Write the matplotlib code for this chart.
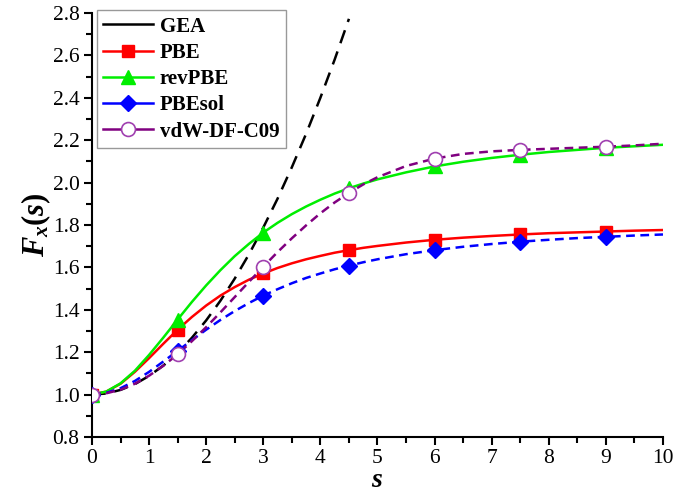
#!/usr/bin/env python3
# coding: utf-8
"""Exchange enhancement factors F_x(s) for a few GGA functionals."""
import matplotlib
matplotlib.use('AGG')
import matplotlib.pyplot as plt
from matplotlib.lines import Line2D

plt.rcParams['font.family'] = ['Liberation Serif', 'DejaVu Serif']
plt.rcParams['mathtext.fontset'] = 'custom'
plt.rcParams['mathtext.rm'] = 'Liberation Serif:bold'
plt.rcParams['mathtext.it'] = 'Liberation Serif:italic:bold'
plt.rcParams['mathtext.bf'] = 'Liberation Serif:bold'

# Curves (steps of 0.25 up to s = 5, then 0.5)
s = [0, 0.25, 0.5, 0.75, 1, 1.25, 1.5, 1.75, 2, 2.25, 2.5, 2.75, 3, 3.25, 3.5,
     3.75, 4, 4.25, 4.5, 4.75, 5, 5.5, 6, 6.5, 7, 7.5, 8, 8.5, 9, 9.5, 10]
pbe = [1.0, 1.014, 1.051, 1.107, 1.172, 1.240, 1.306, 1.366, 1.420, 1.467, 1.507,
       1.542, 1.571, 1.597, 1.619, 1.638, 1.654, 1.669, 1.681, 1.692, 1.701,
       1.717, 1.730, 1.740, 1.748, 1.755, 1.761, 1.765, 1.769, 1.773, 1.776]
revpbe = [1.0, 1.014, 1.053, 1.112, 1.187, 1.269, 1.354, 1.437, 1.515, 1.587, 1.653,
          1.711, 1.764, 1.810, 1.851, 1.887, 1.919, 1.948, 1.973, 1.995, 2.015,
          2.048, 2.076, 2.098, 2.116, 2.131, 2.144, 2.154, 2.164, 2.171, 2.178]
pbesol = [1.0, 1.008, 1.030, 1.064, 1.107, 1.156, 1.206, 1.257, 1.306, 1.352, 1.394,
          1.432, 1.467, 1.497, 1.525, 1.550, 1.571, 1.591, 1.608, 1.624, 1.638,
          1.662, 1.681, 1.697, 1.710, 1.721, 1.730, 1.738, 1.744, 1.750, 1.755]
c09 = [1.0, 1.006, 1.023, 1.051, 1.089, 1.136, 1.190, 1.252, 1.318, 1.388, 1.460,
       1.532, 1.603, 1.672, 1.737, 1.798, 1.855, 1.906, 1.951, 1.991, 2.025,
       2.078, 2.113, 2.135, 2.147, 2.154, 2.159, 2.164, 2.169, 2.175, 2.183]

# GEA only drawn up to s = 4.5
s_gea = [0, 0.25, 0.5, 0.75, 1, 1.25, 1.5, 1.75, 2, 2.25, 2.5, 2.75, 3, 3.25,
         3.5, 3.75, 4, 4.25, 4.5]
gea = [1.0, 1.005, 1.022, 1.049, 1.088, 1.137, 1.197, 1.268, 1.350, 1.443, 1.547,
       1.662, 1.788, 1.924, 2.072, 2.230, 2.400, 2.580, 2.772]

# Marked points
s_mark = [0, 1.5, 3, 4.5, 6, 7.5, 9]
pbe_mark = [1.0, 1.306, 1.571, 1.681, 1.730, 1.755, 1.769]
revpbe_mark = [1.0, 1.354, 1.764, 1.973, 2.076, 2.131, 2.164]
pbesol_mark = [1.0, 1.206, 1.467, 1.608, 1.681, 1.721, 1.744]
c09_mark = [1.0, 1.190, 1.603, 1.951, 2.113, 2.154, 2.169]

RED = '#ff0000'
GREEN = '#00ee00'
BLUE = '#0000ff'
PURPLE = '#800080'
CIRCLE_EDGE = '#a040b0'

fig = plt.figure(figsize=(6.75, 4.96), dpi=100)
ax = fig.add_axes([0.1363, 0.119, 0.8459, 0.855])

lw = 1.8
ax.plot(s_gea, gea, color='black', lw=lw, dashes=(5.5, 3.5), zorder=2)
ax.plot(s, pbe, color=RED, lw=lw, zorder=3)
ax.plot(s, revpbe, color=GREEN, lw=lw, zorder=3)
ax.plot(s, pbesol, color=BLUE, lw=lw, dashes=(3.5, 2.2), zorder=3)
ax.plot(s, c09, color=PURPLE, lw=lw, dashes=(3.5, 2.2), zorder=3)

ax.plot(s_mark, pbe_mark, ls='none', marker='s', ms=8, color=RED, zorder=4)
ax.plot(s_mark, revpbe_mark, ls='none', marker='^', ms=10, color=GREEN, zorder=4)
ax.plot(s_mark, pbesol_mark, ls='none', marker='D', ms=8, color=BLUE, zorder=4)
ax.plot(s_mark, c09_mark, ls='none', marker='o', ms=10, mfc='white',
        mec=CIRCLE_EDGE, mew=1.2, zorder=5)

ax.set_xlim(0, 10)
ax.set_ylim(0.8, 2.8)
ax.set_xticks(range(0, 11))
ax.set_xticks([x + 0.5 for x in range(10)], minor=True)
ax.set_yticks([0.8 + 0.2 * i for i in range(11)])
ax.set_yticks([0.9 + 0.2 * i for i in range(10)], minor=True)
ax.yaxis.set_major_formatter(matplotlib.ticker.FormatStrFormatter('%.1f'))

for side in ('top', 'right'):
    ax.spines[side].set_visible(False)
for side in ('left', 'bottom'):
    ax.spines[side].set_linewidth(1.5)
ax.tick_params(which='major', direction='out', length=6, width=1.5,
               labelsize=15.5, pad=3)
ax.tick_params(which='minor', direction='out', length=4, width=1.5)

ax.set_xlabel(r'$s$', fontsize=20, labelpad=0)
ax.set_ylabel(r'$F_x(s)$', fontsize=22, labelpad=0)

handles = [
    Line2D([], [], color='black', lw=lw),
    Line2D([], [], color=RED, lw=lw, marker='s', ms=8),
    Line2D([], [], color=GREEN, lw=lw, marker='^', ms=10),
    Line2D([], [], color=BLUE, lw=lw, marker='D', ms=8),
    Line2D([], [], color=PURPLE, lw=lw, marker='o', ms=10, mfc='white',
           mec=CIRCLE_EDGE, mew=1.2),
]
labels = ['GEA', 'PBE', 'revPBE', 'PBEsol', 'vdW-DF-C09']
leg = ax.legend(handles, labels, loc='upper left', bbox_to_anchor=(0.009, 1.006),
                borderaxespad=0, handlelength=2.4, handletextpad=0.3,
                labelspacing=0.3, borderpad=0.3, fancybox=False,
                prop={'weight': 'bold', 'size': 15})
leg.get_frame().set_edgecolor('#808080')
leg.get_frame().set_linewidth(1.0)

fig.savefig('out.png', dpi=100)
